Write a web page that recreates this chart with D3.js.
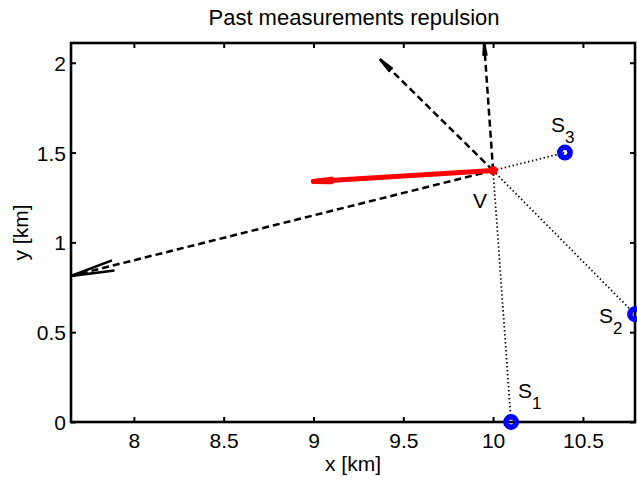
<!DOCTYPE html>
<html>
<head>
<meta charset="utf-8">
<script src="https://cdn.jsdelivr.net/npm/d3@7"></script>
<style>
  html, body { margin: 0; padding: 0; background: #fff; }
  svg { display: block; }
  text { font-family: "Liberation Sans", Arial, Helvetica, sans-serif; fill: #000; }
</style>
</head>
<body>
<svg id="chart" width="637" height="481"></svg>
<script>
// ---- data ----
const xTicks = [8, 8.5, 9, 9.5, 10, 10.5];
const yTicks = [0, 0.5, 1, 1.5, 2];
const xDomain = [7.65, 10.79];
const yDomain = [0, 2.11];

const vehicleX = 10.0;
const vehicleY = 1.4;

const sensorNames = ["1", "2", "3"];
const sensorX = [10.1, 10.79, 10.4];
const sensorY = [0.0, 0.6, 1.5];

// individual repulsion vectors (tips), starting at the vehicle
const repulsionTipX = [7.65, 9.37, 9.95];
const repulsionTipY = [0.813, 2.02, 2.11];

// resultant repulsion (tip)
const resultantTipX = [9.0];
const resultantTipY = [1.339];

// ---- layout ----
const svg = d3.select("#chart");
const margin = { left: 71, right: 2, top: 43, bottom: 59 };
const W = 637, H = 481;
const x = d3.scaleLinear().domain(xDomain).range([margin.left, W - margin.right]);
const y = d3.scaleLinear().domain(yDomain).range([H - margin.bottom, margin.top]);
const x0 = x.range()[0], x1 = x.range()[1], y0 = y.range()[0], y1 = y.range()[1];

const tickFont = 21;

// title
svg.append("text").attr("x", (x0 + x1) / 2 + 1).attr("y", 25)
  .attr("text-anchor", "middle").style("font-size", "22px")
  .text("Past measurements repulsion");

// axes
function styleAxis(g) {
  g.select(".domain").remove();
  g.selectAll(".tick line").attr("stroke", "#000").attr("stroke-width", 2);
}
const gx = svg.append("g").attr("transform", `translate(0,${y0})`)
  .call(d3.axisBottom(x).tickValues(xTicks).tickSizeInner(-5).tickSizeOuter(0).tickPadding(0)
    .tickFormat(d3.format("")));
styleAxis(gx);
gx.selectAll(".tick text").attr("y", 26).attr("dy", 0).style("font-size", tickFont + "px")
  .style("font-family", "'Liberation Sans', Arial, sans-serif");

const gy = svg.append("g").attr("transform", `translate(${x0},0)`)
  .call(d3.axisLeft(y).tickValues(yTicks).tickSizeInner(-5).tickSizeOuter(0).tickPadding(5)
    .tickFormat(d3.format("")));
styleAxis(gy);
gy.selectAll(".tick text").attr("dy", "0.36em").style("font-size", tickFont + "px")
  .style("font-family", "'Liberation Sans', Arial, sans-serif");

const gt = svg.append("g").attr("transform", `translate(0,${y1})`)
  .call(d3.axisTop(x).tickValues(xTicks).tickSizeInner(-5).tickSizeOuter(0).tickFormat(""));
styleAxis(gt);
const gr = svg.append("g").attr("transform", `translate(${x1},0)`)
  .call(d3.axisRight(y).tickValues(yTicks).tickSizeInner(-5).tickSizeOuter(0).tickFormat(""));
styleAxis(gr);

// axis labels
svg.append("text").attr("x", (x0 + x1) / 2).attr("y", 471)
  .attr("text-anchor", "middle").style("font-size", "21px").text("x [km]");
svg.append("text").attr("transform", `translate(28,${(y0 + y1) / 2}) rotate(-90)`)
  .attr("text-anchor", "middle").style("font-size", "21px").text("y [km]");

// plot content
const plot = svg.append("g");
const vx = x(vehicleX), vy = y(vehicleY);

// dotted lines vehicle -> sensors
plot.selectAll("line.dot").data(sensorX.map((d, i) => ({ x: d, y: sensorY[i] })))
  .enter().append("line")
  .attr("x1", vx).attr("y1", vy)
  .attr("x2", d => x(d.x)).attr("y2", d => y(d.y))
  .attr("stroke", "#000").attr("stroke-width", 1.8).attr("stroke-dasharray", "1.4,2.6");

function arrowHead(sx, sy, tx, ty, wf) {
  const dx = tx - sx, dy = ty - sy;
  const L = Math.hypot(dx, dy);
  const ux = dx / L, uy = dy / L;
  const hl = 0.1 * L, hw = wf * hl;
  const bx = tx - ux * hl, by = ty - uy * hl;
  const px = -uy, py = ux;
  return `M${bx + px * hw},${by + py * hw}L${tx},${ty}L${bx - px * hw},${by - py * hw}`;
}

// dashed repulsion vectors
const reps = repulsionTipX.map((d, i) => ({ x: d, y: repulsionTipY[i] }));
plot.selectAll("line.rep").data(reps).enter().append("line")
  .attr("x1", vx).attr("y1", vy)
  .attr("x2", d => x(d.x)).attr("y2", d => y(d.y))
  .attr("stroke", "#000").attr("stroke-width", 2.5).attr("stroke-dasharray", "7,4");
plot.selectAll("path.rephead").data(reps).enter().append("path")
  .attr("d", d => arrowHead(vx, vy, x(d.x), y(d.y), 0.12))
  .attr("fill", "none").attr("stroke", "#000").attr("stroke-width", 2.5)
  .attr("stroke-linejoin", "miter");

// resultant (red)
const res = resultantTipX.map((d, i) => ({ x: d, y: resultantTipY[i] }));
plot.selectAll("line.res").data(res).enter().append("line")
  .attr("x1", vx).attr("y1", vy)
  .attr("x2", d => x(d.x)).attr("y2", d => y(d.y))
  .attr("stroke", "#ff0000").attr("stroke-width", 5).attr("stroke-linecap", "round");
plot.selectAll("path.reshead").data(res).enter().append("path")
  .attr("d", d => arrowHead(vx, vy, x(d.x), y(d.y), 0.07))
  .attr("fill", "none").attr("stroke", "#ff0000").attr("stroke-width", 5)
  .attr("stroke-linecap", "round").attr("stroke-linejoin", "round");

// vehicle marker
plot.append("circle").attr("cx", vx).attr("cy", vy).attr("r", 4.5).attr("fill", "#ff0000");

// axis box lines
svg.append("rect").attr("x", x0).attr("y", y1).attr("width", x1 - x0).attr("height", y0 - y1)
  .attr("fill", "none").attr("stroke", "#000").attr("stroke-width", 2.6);

// sensors
const sensors = sensorX.map((d, i) => ({ x: d, y: sensorY[i], name: sensorNames[i] }));
svg.selectAll("circle.sensor").data(sensors).enter().append("circle")
  .attr("cx", d => x(d.x)).attr("cy", d => y(d.y)).attr("r", 5.2)
  .attr("fill", "none").attr("stroke", "#0000ff").attr("stroke-width", 5.5);

// labels
const labelOffsets = [[7, -24], [-36, 9], [-14, -21]];
sensors.forEach((d, i) => {
  const t = svg.append("text")
    .attr("x", x(d.x) + labelOffsets[i][0]).attr("y", y(d.y) + labelOffsets[i][1])
    .style("font-size", "21px");
  t.append("tspan").text("S");
  t.append("tspan").attr("dy", 11).style("font-size", "17px").text(d.name);
});
svg.append("text").attr("x", vx - 20).attr("y", vy + 37).style("font-size", "21px").text("V");
</script>
</body>
</html>
